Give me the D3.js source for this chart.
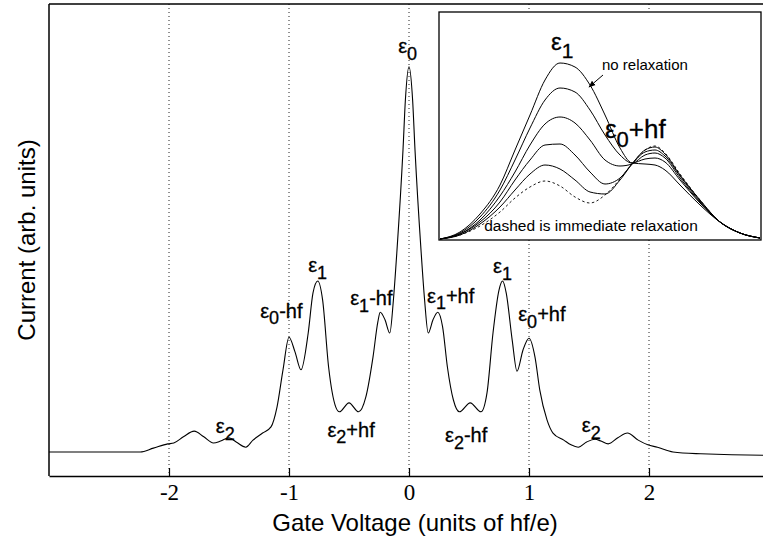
<!DOCTYPE html>
<html>
<head>
<meta charset="utf-8">
<script src="https://cdn.jsdelivr.net/npm/d3@7"></script>
<style>
  body { margin: 0; background: #fff; }
  svg { display: block; }
</style>
</head>
<body>
<div id="chart"></div>
<script>
// main trace: gate voltage (hf/e) vs current (arb.)
const gateV = [-3.0,-2.57,-2.24,-2.13,-2.01,-1.96,-1.88,-1.79,-1.71,-1.63,-1.57,-1.50,-1.44,-1.36,-1.30,-1.22,-1.15,-1.10,-1.05,-1.00,
  -0.95,-0.90,-0.84,-0.80,-0.76,-0.72,-0.67,-0.61,-0.58,-0.50,-0.42,-0.36,-0.30,-0.26,-0.24,-0.20,-0.16,-0.13,-0.10,-0.05,-0.03,0,
  0.03,0.05,0.10,0.13,0.16,0.20,0.24,0.28,0.32,0.37,0.42,0.51,0.60,0.65,0.70,0.75,0.78,0.81,0.86,0.90,0.95,1.00,1.05,1.09,1.15,1.20,
  1.29,1.35,1.41,1.48,1.55,1.60,1.66,1.74,1.82,1.91,1.99,2.07,2.20,2.43,2.95,3.0];
const current = [5.1,5.1,5.1,5.9,6.8,7.0,8.3,9.5,8.3,7.0,7.4,8.1,7.2,6.1,7.6,9.1,10.4,14.6,22.5,29.4,
  26.3,22.5,30.3,38.8,41.3,37.3,23.1,14.6,13.6,15.5,13.6,16.7,25.2,32.6,34.7,33.1,30.3,37.3,47.9,69.1,79.7,86.7,
  79.7,69.1,47.9,37.3,30.3,33.1,34.7,31.6,23.1,16.1,13.6,15.5,13.6,17.6,30.3,39.4,41.3,38.8,28.8,22.2,26.7,29.2,25.2,18.2,11.9,9.1,
  7.6,6.6,6.1,7.2,7.8,7.4,6.8,8.1,9.1,7.6,6.6,6.1,5.1,4.7,4.4,4.4];

const xTicks = [-2, -1, 0, 1, 2];

// inset: same gate axis zoomed on eps1 / eps0+hf, several relaxation rates
const insetV = [0,2,4,6,7.5,9,10.5,12,13.5,15,16.5,18,19.2,20.5,21.5,22.5,24,26,28,30,32];
const noRelax = [1,8,26,55,90,125,160,177,173,155,125,92,77,76,75,70,55,35,18,7,2];
const relaxA  = [1,7,23,50,80,112,140,152,148,130,105,85,77,81,82,78,60,37,18,7,2];
const relaxB  = [1,6,20,44,68,95,116,123,117,100,80,74,76,85,87,82,62,38,18,7,2];
const relaxC  = [1,6,18,38,60,80,95,96,85,68,56,62,76,88,90,84,64,39,18,7,2];
const relaxD  = [1,5,16,33,50,66,75,71,60,48,46,60,76,90,93,86,65,40,18,7,2];
const immediate = [1,5,14,28,42,53,59,54,43,37,45,61,76,90,94,87,66,40,18,7,2];

// peak labels: [eps sub, suffix, gate x, current y]
const peakLabels = [
  ["0", "",    -0.09, 89.6],
  ["1", "",    -0.84, 43.2],
  ["0", "-hf", -1.24, 33.5],
  ["1", "-hf", -0.49, 36.2],
  ["2", "+hf", -0.68, 8.3],
  ["2", "",    -1.61, 9.1],
  ["1", "+hf",  0.15, 36.7],
  ["1", "",     0.70, 43.0],
  ["0", "+hf",  0.91, 32.8],
  ["2", "-hf",  0.30, 7.2],
  ["2", "",     1.44, 9.3]
];

const width = 763, height = 552;
const svg = d3.select("#chart").append("svg")
    .attr("width", width)
    .attr("height", height)
    .style("font-family", "'Liberation Sans', Arial, sans-serif");

const x = d3.scaleLinear().domain([-3, 3]).range([49, 769]);
const y = d3.scaleLinear().domain([0, 100]).range([476, 4]);

// dotted guides at integer gate voltages
svg.append("g").selectAll("line")
    .data(xTicks)
    .enter().append("line")
    .attr("x1", d => x(d)).attr("x2", d => x(d))
    .attr("y1", y(100)).attr("y2", y(0))
    .attr("stroke", "#222")
    .attr("stroke-width", 1)
    .attr("stroke-dasharray", "1,3");

// the trace
const line = d3.line()
    .x((d, i) => x(gateV[i]))
    .y(d => y(d))
    .curve(d3.curveMonotoneX);

svg.append("path")
    .datum(current)
    .attr("d", line)
    .attr("fill", "none")
    .attr("stroke", "#000")
    .attr("stroke-width", 1.1);

// frame
svg.append("line")
    .attr("x1", x(-3)).attr("x2", width)
    .attr("y1", y(100)).attr("y2", y(100))
    .attr("stroke", "#000").attr("stroke-width", 1.5);
svg.append("line")
    .attr("x1", x(-3)).attr("x2", x(-3))
    .attr("y1", y(100)).attr("y2", y(0))
    .attr("stroke", "#000").attr("stroke-width", 1.5);

const xAxis = svg.append("g")
    .attr("transform", `translate(0,${y(0)})`)
    .call(d3.axisBottom(x).tickValues(xTicks).tickSize(-8).tickSizeOuter(0).tickPadding(8).tickFormat(d3.format("d")));
xAxis.select(".domain").attr("stroke-width", 1.5);
xAxis.selectAll(".tick line").attr("stroke-width", 1.2);
xAxis.selectAll("text")
    .style("font-family", "'Liberation Serif', 'Times New Roman', serif")
    .style("font-size", "23px")
    .attr("fill", "#000")
    .text(d => d < 0 ? "-" + Math.abs(d) : d);

svg.append("text")
    .attr("x", x(0.05))
    .attr("y", 531)
    .attr("text-anchor", "middle")
    .style("font-size", "24px")
    .text("Gate Voltage (units of hf/e)");

svg.append("text")
    .attr("transform", `translate(35,${y(50)}) rotate(-90)`)
    .attr("text-anchor", "middle")
    .style("font-size", "24px")
    .text("Current (arb. units)");

// epsilon label with subscript
function epsLabel(g, px, py, sub, rest, size, subSize, anchor) {
  const t = g.append("text")
      .attr("x", px).attr("y", py)
      .attr("text-anchor", anchor || "start")
      .attr("stroke", "#000")
      .attr("stroke-width", 0.3)
      .style("font-size", size + "px");
  t.append("tspan").text("ε");
  t.append("tspan").attr("dy", size * 0.33).style("font-size", subSize + "px").text(sub);
  if (rest) t.append("tspan").attr("dy", -size * 0.33).text(rest);
  return t;
}

peakLabels.forEach(p => epsLabel(svg, x(p[2]), y(p[3]), p[0], p[1], 20, 18));

// inset
const ix = d3.scaleLinear().domain([0, 32]).range([440, 760]);
const iy = d3.scaleLinear().domain([0, 200]).range([240, 40]);
const inset = svg.append("g");

inset.append("rect")
    .attr("x", ix(-0.1)).attr("y", iy(228))
    .attr("width", ix(32.1) - ix(-0.1)).attr("height", iy(0) - iy(228))
    .attr("fill", "#fff")
    .attr("stroke", "#000")
    .attr("stroke-width", 1.3);

const iline = d3.line()
    .x((d, i) => ix(insetV[i]))
    .y(d => iy(d))
    .curve(d3.curveMonotoneX);

[noRelax, relaxA, relaxB, relaxC, relaxD].forEach(s => {
  inset.append("path").datum(s).attr("d", iline)
      .attr("fill", "none").attr("stroke", "#000").attr("stroke-width", 1);
});
inset.append("path").datum(immediate).attr("d", iline)
    .attr("fill", "none").attr("stroke", "#000").attr("stroke-width", 0.9)
    .attr("stroke-dasharray", "2.5,2.5");

epsLabel(inset, ix(11.1), iy(190), "1", "", 24, 21);
epsLabel(inset, ix(16.5), iy(102), "0", "+hf", 26, 22);

inset.append("text")
    .attr("x", ix(16.2)).attr("y", iy(170))
    .style("font-size", "15px")
    .text("no relaxation");

inset.append("text")
    .attr("x", ix(15.1)).attr("y", iy(9))
    .attr("text-anchor", "middle")
    .style("font-size", "15.5px")
    .text("dashed is immediate relaxation");

// arrow pointing to the no-relaxation trace
svg.append("defs").append("marker")
    .attr("id", "arrow")
    .attr("viewBox", "0 0 10 10")
    .attr("refX", 9).attr("refY", 5)
    .attr("markerWidth", 7).attr("markerHeight", 7)
    .attr("orient", "auto")
    .append("path").attr("d", "M0,1 L10,5 L0,9 z").attr("fill", "#000");

inset.append("line")
    .attr("x1", ix(16.3)).attr("y1", iy(165))
    .attr("x2", ix(14.9)).attr("y2", iy(153))
    .attr("stroke", "#000").attr("stroke-width", 1)
    .attr("marker-end", "url(#arrow)");
</script>
</body>
</html>
